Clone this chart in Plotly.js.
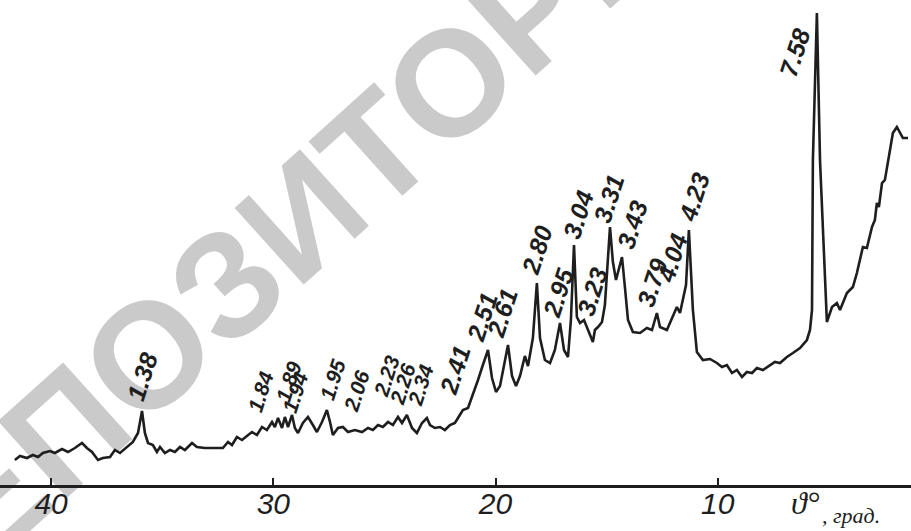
<!DOCTYPE html>
<html>
<head>
<meta charset="utf-8">
<script src="https://cdn.plot.ly/plotly-3.0.1.min.js"></script>
<style>html,body{margin:0;padding:0;background:#fff;}#chart{width:911px;height:531px;}</style>
</head>
<body>
<div id="chart"></div>
<script>
// Diffraction angle, degrees
const theta = [41.63,41.40,41.09,40.82,40.59,40.37,40.05,39.83,39.51,39.24,38.93,38.61,38.39,38.16,37.89,37.67,37.35,37.13,36.90,36.59,36.32,36.09,35.91,35.78,35.64,35.42,35.24,35.10,34.88,34.65,34.43,34.20,33.98,33.66,33.44,33.08,32.63,32.27,32.04,31.86,31.64,31.41,31.19,30.96,30.74,30.51,30.29,30.06,29.93,29.79,29.61,29.48,29.34,29.16,29.03,28.89,28.67,28.44,28.22,28.04,27.81,27.59,27.45,27.32,27.09,26.87,26.64,26.33,26.01,25.74,25.52,25.29,25.07,24.84,24.62,24.39,24.21,23.99,23.76,23.54,23.31,23.09,22.95,22.73,22.50,22.28,22.05,21.83,21.69,21.47,21.24,21.02,20.79,20.57,20.34,20.16,19.98,19.80,19.58,19.44,19.26,19.08,18.90,18.68,18.54,18.32,18.14,18.00,17.78,17.55,17.33,17.10,16.92,16.74,16.61,16.47,16.34,16.20,16.02,15.84,15.62,15.53,15.39,15.21,15.08,14.85,14.72,14.58,14.45,14.31,14.18,14.04,13.82,13.50,13.19,12.96,12.74,12.60,12.29,12.02,11.84,11.70,11.57,11.43,11.30,11.12,10.94,10.67,10.35,10.04,9.81,9.59,9.36,9.14,8.91,8.69,8.46,8.24,7.97,7.65,7.43,7.20,6.89,6.62,6.30,5.99,5.85,5.76,5.72,5.54,5.40,5.09,4.86,4.64,4.50,4.19,3.92,3.74,3.47,3.29,3.06,2.93,2.84,2.75,2.61,2.48,2.34,2.12,1.94,1.80,1.67,1.44];
// Recorded intensity, arbitrary units
const intensity = [25,29,27,30,28,32,34,32,36,33,37,42,37,33,25,27,28,35,32,38,43,52,74,52,42,40,33,38,32,35,33,38,35,42,38,37,37,37,43,40,48,45,49,53,50,58,55,63,58,67,57,68,58,70,57,52,62,68,60,53,63,75,63,50,57,58,53,55,53,57,55,60,58,63,60,68,62,70,57,52,62,67,60,57,58,55,60,62,67,75,77,90,105,120,135,107,93,99,123,140,109,99,109,129,119,147,202,147,125,122,135,162,135,128,165,240,168,162,165,155,143,155,158,163,180,258,223,205,217,228,198,165,153,152,157,155,172,158,155,168,178,172,185,200,255,175,133,125,126,122,118,120,112,115,108,113,112,117,115,120,123,122,128,132,137,145,155,175,325,472,325,163,178,182,175,192,198,212,238,237,258,265,282,278,302,305,322,352,358,352,347,347];
// Interplanar spacings written over the peaks, and where they are written
const peakLabels = ['1.38','1.84','1.89','1.94','1.95','2.06','2.23','2.26','2.34','2.41','2.51','2.61','2.80','2.95','3.04','3.23','3.31','3.43','3.79','4.04','4.23','7.58'];
const labelTheta = [35.91,30.60,29.34,29.03,27.36,26.28,24.93,24.21,23.40,21.83,20.61,19.71,18.14,17.19,16.29,15.66,14.90,13.86,12.96,12.06,11.07,6.53];
const labelIntensity = [108,93,103,93,105,94,109,101,100,115,168,172,235,192,270,193,287,260,202,227,288,433];
const tickValues = [40,30,20,10];
const tickLabels = ['40','30','20','10'];
const watermark = 'РЕПОЗИТОРИЙ';

const ink = '#1e1e1e';
const trace = {
  x: theta, y: intensity, type: 'scatter', mode: 'lines',
  line: {color: ink, width: 2.6}, hoverinfo: 'skip'
};

const annotations = peakLabels.map((t, i) => {
  const d = parseFloat(t);
  const small = d > 1.8 && d < 2.4;
  return {
    x: labelTheta[i], y: labelIntensity[i], xref: 'x', yref: 'y',
    text: t, showarrow: false, textangle: -72,
    xanchor: 'center', yanchor: 'middle',
    font: {family: 'Liberation Sans, Arial, sans-serif', size: small ? 21 : 25, style: 'italic', weight: 'bold', color: ink}
  };
});
annotations.push({
  x: 6.05, y: -0.038, xref: 'x', yref: 'paper', text: 'ϑ°', showarrow: false,
  xanchor: 'center', yanchor: 'middle',
  font: {family: 'Liberation Serif, serif', size: 32, style: 'italic', color: ink}
});
annotations.push({
  x: 5.42, y: -0.062, xref: 'x', yref: 'paper', text: ', град.', showarrow: false,
  xanchor: 'left', yanchor: 'middle',
  font: {family: 'Liberation Serif, serif', size: 22, style: 'italic', color: ink}
});

const layout = {
  width: 911, height: 531,
  margin: {l: 0, r: 0, t: 0, b: 46, pad: 0},
  paper_bgcolor: '#ffffff', plot_bgcolor: '#ffffff',
  showlegend: false,
  xaxis: {
    range: [42.3, 1.305], autorange: false,
    tickmode: 'array', tickvals: tickValues, ticktext: tickLabels,
    ticks: 'inside', ticklen: 7, tickwidth: 2, tickcolor: ink,
    ticklabelstandoff: -10,
    showline: true, linewidth: 3, linecolor: ink,
    showgrid: false, zeroline: false,
    tickfont: {family: 'Liberation Sans, Arial, sans-serif', size: 30, style: 'italic', color: ink}
  },
  yaxis: {range: [0, 485], autorange: false, visible: false, showgrid: false, zeroline: false},
  shapes: [{
    type: 'line', xref: 'paper', yref: 'paper', layer: 'below',
    x0: -0.1833, y0: -0.2206, x1: 0.8266, y1: 1.3711,
    line: {color: 'rgba(0,0,0,0)', width: 1},
    label: {text: watermark, textangle: -42, textposition: 'middle', xanchor: 'center', yanchor: 'middle',
      font: {family: 'Liberation Sans, Arial, sans-serif', size: 150, weight: 'bold', color: '#cacaca'}}
  }],
  annotations: annotations
};

Plotly.newPlot('chart', [trace], layout, {staticPlot: true, displayModeBar: false});
</script>
</body>
</html>
